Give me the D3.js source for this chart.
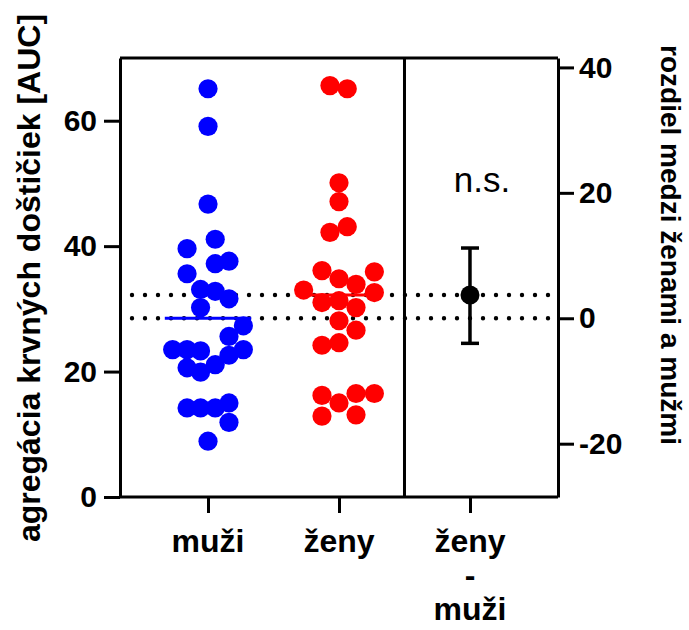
<!DOCTYPE html>
<html><head><meta charset="utf-8">
<script src="https://cdn.jsdelivr.net/npm/d3@7"></script>
<style>
body{margin:0;background:#fff}
text{font-family:"Liberation Sans",Arial,Helvetica,sans-serif}
</style>
</head><body>
<svg id="chart" width="689" height="630"></svg>
<script>
// ---- data ----
const categories = ["muži", "ženy", "ženy - muži"];
const categoryLabelLines = [["muži"], ["ženy"], ["ženy", "-", "muži"]];
const muziValues = [65.1, 59.1, 46.7, 41.1, 39.6, 37.2, 37.6, 35.6, 33.1, 32.8, 31.6, 30.2, 27.3, 25.6, 23.5, 23.5, 23.3, 23.5, 22.6, 20.6, 21.1, 19.9, 14.2, 14.2, 14.2, 15.0, 11.9, 8.9];
const muziJitter = [0, 0, 0, 0.055, -0.16, 0.055, 0.16, -0.16, -0.057, 0.055, 0.16, -0.057, 0.27, 0.16, -0.27, -0.16, -0.057, 0.27, 0.16, -0.16, 0.055, -0.057, -0.16, -0.057, 0.055, 0.16, 0.16, 0];
const zenyValues = [65.6, 65.1, 50.1, 47.1, 43.1, 42.2, 36.1, 34.8, 35.9, 33.9, 33.0, 32.6, 31.0, 31.3, 30.2, 28.1, 26.6, 24.2, 24.6, 16.2, 15.0, 16.5, 16.5, 12.9, 13.1];
const zenyJitter = [-0.069, 0.063, 0, 0, 0.063, -0.069, -0.13, 0, 0.27, 0.13, -0.27, 0.27, -0.13, 0, 0.13, 0, 0.13, -0.13, 0, -0.13, 0, 0.13, 0.27, -0.13, 0.13];
const groupMeans = [28.5, 32.2];
const difference = 3.7;
const differenceCI = [-4.0, 11.2];
const leftTicks = [0, 20, 40, 60];
const rightTicks = [-20, 0, 20, 40];
const leftDomain = [0, 70];
const annotation = "n.s.";
const leftTitle = "agregácia krvných doštičiek [AUC]";
const rightTitle = "rozdiel medzi ženami a mužmi";

// ---- layout ----
const svg = d3.select("#chart");
const L = 120, R = 558, T = 58, B = 497;

const x = d3.scalePoint().domain(categories).range([L, R]).padding(0.672);
const y = d3.scaleLinear().domain(leftDomain).range([B, T]);
const yR = d3.scaleLinear()
  .domain([leftDomain[0] - groupMeans[0], leftDomain[1] - groupMeans[0]])
  .range([B, T]);
const step = x.step();

// dotted reference lines (group means)
svg.append("g").selectAll("line").data(groupMeans).join("line")
  .attr("x1", L + 12).attr("x2", R)
  .attr("y1", d => y(d)).attr("y2", d => y(d))
  .attr("stroke", "#000").attr("stroke-width", 4.4)
  .attr("stroke-linecap", "round").attr("stroke-dasharray", "0 13");

// points
const groups = [
  {vals: muziValues, jit: muziJitter, cat: categories[0], color: "#0000ff"},
  {vals: zenyValues, jit: zenyJitter, cat: categories[1], color: "#ff0000"}
];
groups.forEach((g, gi) => {
  svg.append("g").selectAll("circle").data(g.vals).join("circle")
    .attr("cx", (d, i) => x(g.cat) + g.jit[i] * step)
    .attr("cy", d => y(d))
    .attr("r", 9.6)
    .attr("fill", g.color);
  svg.append("line")
    .attr("x1", x(g.cat) - 0.33 * step).attr("x2", x(g.cat) + 0.33 * step)
    .attr("y1", y(groupMeans[gi])).attr("y2", y(groupMeans[gi]))
    .attr("stroke", g.color).attr("stroke-width", 3);
});

// difference with CI
const dx = x(categories[2]);
const eb = svg.append("g").attr("stroke", "#000").attr("stroke-width", 3.5);
eb.append("line").attr("x1", dx).attr("x2", dx).attr("y1", yR(differenceCI[0])).attr("y2", yR(differenceCI[1]));
differenceCI.forEach(v => eb.append("line").attr("x1", dx - 9).attr("x2", dx + 9).attr("y1", yR(v)).attr("y2", yR(v)));
svg.append("circle").attr("cx", dx).attr("cy", yR(difference)).attr("r", 9.5).attr("fill", "#000");

svg.append("text").attr("x", dx + 12).attr("y", 192).attr("text-anchor", "middle")
  .attr("font-size", 35).attr("fill", "#000").text(annotation);

// frame and divider
const frame = svg.append("g").attr("stroke", "#000").attr("stroke-width", 3).attr("fill", "none");
frame.append("line").attr("x1", L).attr("x2", R).attr("y1", T).attr("y2", T);
const divX = (x(categories[1]) + x(categories[2])) / 2;
frame.append("line").attr("x1", divX).attr("x2", divX).attr("y1", T).attr("y2", B);

// axes
function styleAxis(g) {
  g.selectAll("path.domain").attr("stroke", "#000").attr("stroke-width", 3);
  g.selectAll(".tick line").attr("stroke", "#000").attr("stroke-width", 3);
  g.selectAll(".tick text").attr("fill", "#000")
    .attr("font-family", '"Liberation Sans",Arial,sans-serif')
    .attr("font-weight", "bold").attr("font-size", 30);
}
const plainNum = d => String(d);
svg.append("g").attr("transform", `translate(${L},0)`)
  .call(d3.axisLeft(y).tickValues(leftTicks).tickFormat(plainNum).tickSize(16).tickSizeOuter(0).tickPadding(7))
  .call(styleAxis);
svg.append("g").attr("transform", `translate(${R},0)`)
  .call(d3.axisRight(yR).tickValues(rightTicks).tickFormat(plainNum).tickSize(16).tickSizeOuter(0).tickPadding(5))
  .call(styleAxis);
const xa = svg.append("g").attr("transform", `translate(0,${B})`)
  .call(d3.axisBottom(x).tickSize(16).tickSizeOuter(0).tickFormat(""))
  .call(styleAxis);
xa.select("path.domain").attr("d", `M${L},0H${R}`);

// category labels
categories.forEach((c, i) => {
  const t = svg.append("text").attr("text-anchor", "middle")
    .attr("font-weight", "bold").attr("font-size", 32).attr("fill", "#000");
  categoryLabelLines[i].forEach((line, j) => {
    t.append("tspan").attr("x", x(c)).attr("y", 552 + j * 34).text(line);
  });
});

// axis titles
svg.append("text").attr("transform", "translate(40,278) rotate(-90)")
  .attr("text-anchor", "middle").attr("font-weight", "bold").attr("font-size", 32)
  .attr("fill", "#000").text(leftTitle);
svg.append("text").attr("transform", "translate(661,245) rotate(90)")
  .attr("text-anchor", "middle").attr("font-weight", "bold").attr("font-size", 28)
  .attr("fill", "#000").text(rightTitle);
</script>
</body></html>
